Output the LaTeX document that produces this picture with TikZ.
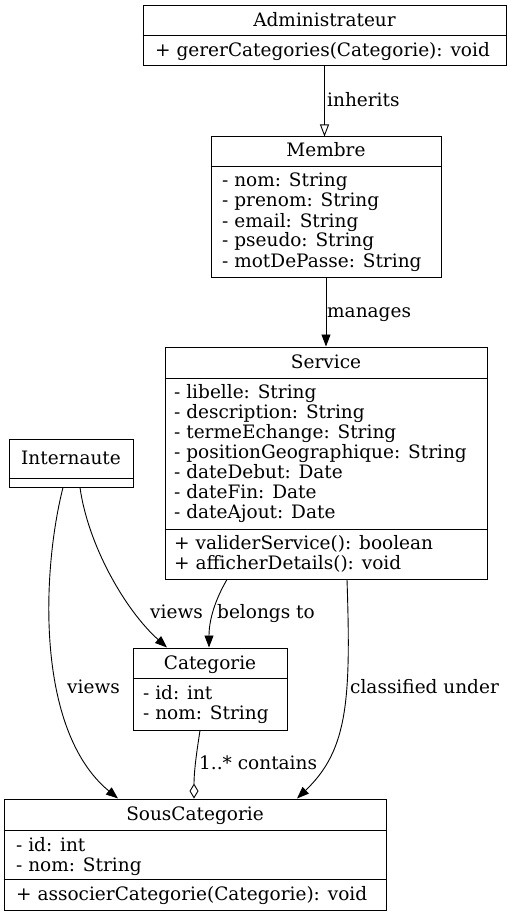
\documentclass[tikz,border=0pt]{standalone}
\usepackage{fontspec}
\setmainfont{DejaVu Serif}
\usetikzlibrary{arrows.meta}
\begin{document}
\begin{tikzpicture}[x=1pt,y=-1pt,
  every node/.style={font=\fontsize{18.5}{20}\selectfont},
  box/.style={draw, line width=1pt, inner sep=0pt},
  ttl/.style={anchor=base, inner sep=0pt},
  txt/.style={anchor=base west, inner sep=0pt},
  lbl/.style={anchor=base west, inner sep=0pt},
  conn/.style={line width=0.9pt},
  filled/.style={conn, -{Triangle[length=12pt,width=9pt]}},
  inherit/.style={conn, -{Triangle[open,length=12pt,width=9pt]}},
  aggr/.style={conn, -{Diamond[open,length=15pt,width=9pt]}}
]
\useasboundingbox (0,0) rectangle (513,917);
\fill[white] (0,0) rectangle (513,917);

% Administrateur
\node[box, minimum width=363pt, minimum height=60pt] (adm) at (324.5,36) {};
\draw[line width=1pt] (adm.west |- 0,36) -- (adm.east |- 0,36);
\node[ttl] (admT) at (324.5,27) {Administrateur};
\node[txt] (admM) at (155,57) {+ gererCategories(Categorie): void};

% Membre
\node[box, minimum width=230pt, minimum height=140pt] (mem) at (326,207) {};
\draw[line width=1pt] (mem.west |- 0,167) -- (mem.east |- 0,167);
\node[ttl] (memT) at (326,157) {Membre};
\foreach \t [count=\i from 0] in {- nom: String, - prenom: String, - email: String, - pseudo: String, - motDePasse: String}
  \node[txt] (memA\i) at (222,{187+20*\i}) {\t};

% Service
\node[box, minimum width=322pt, minimum height=232pt] (svc) at (326,463) {};
\draw[line width=1pt] (svc.west |- 0,378) -- (svc.east |- 0,378);
\draw[line width=1pt] (svc.west |- 0,529) -- (svc.east |- 0,529);
\node[ttl] (svcT) at (326,368) {Service};
\foreach \t [count=\i from 0] in {- libelle: String, - description: String, - termeEchange: String, - positionGeographique: String, - dateDebut: Date, - dateFin: Date, - dateAjout: Date}
  \node[txt] (svcA\i) at (174,{398+20*\i}) {\t};
\node[txt] (svcM0) at (174,549) {+ validerService(): boolean};
\node[txt] (svcM1) at (174,569) {+ afficherDetails(): void};

% Internaute
\node[box, minimum width=124pt, minimum height=48pt] (int) at (71,463) {};
\draw[line width=1pt] (int.west |- 0,478) -- (int.east |- 0,478);
\node[ttl] (intT) at (71,464) {Internaute};

% Categorie
\node[box, minimum width=154pt, minimum height=82pt] (cat) at (210,689) {};
\draw[line width=1pt] (cat.west |- 0,678) -- (cat.east |- 0,678);
\node[ttl] (catT) at (210,669) {Categorie};
\node[txt] (catA0) at (143,699) {- id: int};
\node[txt] (catA1) at (143,719) {- nom: String};

% SousCategorie
\node[box, minimum width=382pt, minimum height=111pt] (sub) at (195,854.5) {};
\draw[line width=1pt] (sub.west |- 0,830) -- (sub.east |- 0,830);
\draw[line width=1pt] (sub.west |- 0,879) -- (sub.east |- 0,879);
\node[ttl] (subT) at (195,820) {SousCategorie};
\node[txt] (subA0) at (16,851) {- id: int};
\node[txt] (subA1) at (16,871) {- nom: String};
\node[txt] (subM0) at (16,900) {+ associerCategorie(Categorie): void};

% Connectors
\draw[inherit] (adm.south) -- (adm.south |- mem.north);
\node[lbl] (l1) at (327,107) {inherits};

\draw[filled] (mem.south) -- (mem.south |- svc.north);
\node[lbl] (l2) at (327,317) {manages};

\draw[filled] ([xshift=9pt]int.south) .. controls (88,545) and (125,610) .. ([xshift=-43pt]cat.north);
\node[lbl] (l3) at (150,618) {views};

\draw[filled] ([xshift=-99pt]svc.south) .. controls (215,600) and (209,620) .. ([xshift=-1pt]cat.north);
\node[lbl] (l4) at (217,618) {belongs to};

\draw[filled] ([xshift=-8pt]int.south) .. controls (42,570) and (35,730) .. ([xshift=-77pt]sub.north);
\node[lbl] (l5) at (67,693) {views};

\draw[filled] ([xshift=21pt]svc.south) .. controls (351,700) and (348,750) .. ([xshift=102pt]sub.north);
\node[lbl] (l6) at (350,693) {classified under};

\draw[aggr] ([xshift=-10pt]cat.south) .. controls (197,750) and (194,770) .. ([xshift=-1pt]sub.north);
\node[lbl] (l7) at (199,769) {1..* contains};
\end{tikzpicture}
\end{document}
